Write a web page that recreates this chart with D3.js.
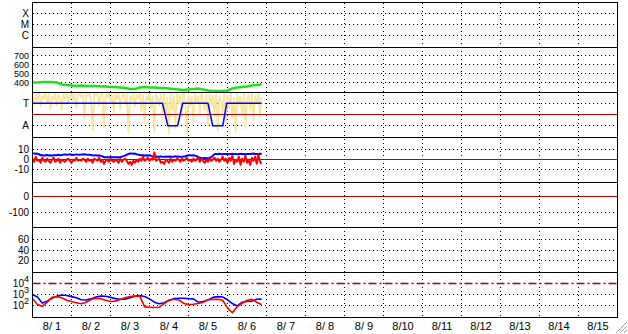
<!DOCTYPE html>
<html><head><meta charset="utf-8">
<script src="https://cdn.jsdelivr.net/npm/d3@7"></script>
<style>
html,body{margin:0;padding:0;background:#fff;}
svg{display:block;font-family:"Liberation Sans",Arial,sans-serif;font-size:11px;}
</style></head><body>
<svg id="chart" width="628" height="334"></svg>
<script>
// ---------------- DATA ----------------
const dayLabels = ["8/ 1","8/ 2","8/ 3","8/ 4","8/ 5","8/ 6","8/ 7","8/ 8","8/ 9","8/10","8/11","8/12","8/13","8/14","8/15"];
const stateCategories = ["X","M","C"];
const levelTicks = [400,500,600,700];
const modeLabels = ["T","A"];
const modeLevels = [75,25];
const modeThreshold = 50;
const diffTicks = [10,0,-10];
const offsetTicks = [0,-100];
const pctTicks = [60,40,20];
const logTicks = [1e4,1e3,1e2];
const logLimit = 1e4;

// green level, one value every 3 hours from 8/1 00:00
const levelSeries = [400,400,406,406,406,400,378,372,367,361,367,361,361,361,356,356,350,350,345,339,
  328,328,345,350,345,345,339,339,333,328,322,317,322,328,333,322,311,306,306,306,311,333,345,350,356,367,372,378];

// mode line (hours from 8/1 00:00, value)
const modeHours  = [0,80,83.3,89.3,92.4,108,110.9,117.1,119.5,141];
const modeValues = [75,75,25,25,75,75,25,25,75,75];

// yellow activity, hourly
const activitySeries = [
  90,72,95,80,97,68,92,85,98,75, 94,62,90,83,97,70,93,88,60,95,
  86,97,74,92,98,81,95,66,93,97, 88,96,40,97,91,98,85,15,96,92,
  98,70,94,97,20,95,88,97,78,93, 55,96,84,98,62,90,97,74,95,10,
  92,80,97,68,94,86,98,58,93,30, 95,82,97,64,91,12,96,85,70,94,
  55,97,40,88,8,95,60,92,20,97, 75,93,45,98,82,10,95,68,90,35,
  96,78,92,52,97,85,60,94,25,96, 70,93,48,98,15,90,80,55,95,30,
  92,65,97,42,88,12,95,72,90,50, 97,20,85,94,60,98,38,91,75,96,
  45,88];

// panel 4, hourly
const diffBlue = [
  6,6.2,5.8,6,5.5,
  4.3,4.5,4,4.3,4.6,4.2,4.3,4,4.5,4.3,4.4,4.8,4.3,4.6,
  5,5.2,4.8,5,5.3,5,4.7,5,5.2,5,4.8,5,5.1,5.4,5,4.8,5,4.6,
  4.3,4.2,4.5,4,4.3,3.8,3.4,
  2.5,2.5,2.4,2.5,2.6,2.5,2.5,2.4,2.5,2.5,2.6,3,3.5,
  4,5,5.6,6,6.2,5.8,6,5.4,5,4.6,
  4.3,4.5,4,4.3,4.1,4.4,3.8,3.4,
  3,3.2,2.9,3,3.3,3,2.8,3.1,3,3.2,3,2.9,3,3.4,3,3.1,2.8,3,3.2,3.5,4,
  4.3,4.5,4.2,4.4,4,3.5,2.5,2,
  1.5,1.4,1.6,1.5,1.5,1.7,2.5,4,
  5.5,5.6,5.4,5.8,5.5,5.3,5.6,5.5,5.7,5.4,5.5,5.9,5.5,5.6,5.3,5.5,5.8,5.6,5.5,5.4,5.7,5.5,5.6,5.8,6,5.7,5.5,5.6,5.8,5.5];
const diffRed = [
  1,-2,3,-1,0,-3,2,-1,-2,1, -1,-3,0,2,-2,-1,1,-3,0,-1,
  -2,0,1,-1,-3,0,-1,2,-1,0, -1,1,0,-2,1,-1,0,-3,1,0,
  -1,2,-2,0,-4,-1,0,-2,1,-1, -2,0,-1,-3,1,-2,0,1,-1,-4,
  -2,-5,-1,-3,0,-2,1,-1,3,-1, 0,2,-1,1,0,7,-1,0,1,-3,
  -2,-4,0,-1,-3,1,-2,0,-1,1, 0,-2,1,-1,0,2,-1,0,-2,1,
  -1,0,2,-2,1,-1,-3,0,-2,1, -1,0,2,-1,1,-2,0,3,-1,1,
  -3,2,-1,4,-4,0,-2,3,-5,1, -2,4,-3,0,-5,2,-1,3,-4,5,
  -2,-4];

// panel 7 (log), one value every 3 hours
const countBlue = [1000,600,165,250,450,700,900,800,640,500, 330,320,400,600,740,700,550,420,375,380,
  500,700,790,650,400,200,143,180,300,420, 460,460,420,400,200,230,320,550,640,600,
  330,150,90,200,230,250,370,380];
const countRed = [460,120,85,200,550,640,500,300,230,180, 143,200,350,460,420,300,230,250,350,500,
  650,740,700,75,70,65,70,150,300,375, 320,160,120,130,150,200,330,360,375,300,
  60,22,80,160,300,360,200,117];

// ---------------- LAYOUT ----------------
const svg = d3.select("#chart");
const L = 32.5, R = 617.5, T0 = 2.5, PH = 45;
const pTop = i => T0 + i*PH, pBot = i => T0 + (i+1)*PH;
const start = new Date(2023,7,1);
const x = d3.scaleTime().domain([start, new Date(2023,7,16)]).range([L, R]);
const hourT = h => new Date(start.getTime() + h*3600e3);

const y1 = d3.scalePoint().domain(stateCategories).range([pTop(0)-0.5, pBot(0)-0.5]).padding(1.12);
const y2 = d3.scaleLinear().domain([289,789]).range([pBot(1), pTop(1)]);
const y3 = d3.scaleLinear().domain([0,100]).range([pBot(2)-0.5, pTop(2)-0.5]);
const y4 = d3.scaleLinear().domain([-22.2,21.7]).range([pBot(3), pTop(3)]);
const y5 = d3.scaleLinear().domain([-194,87.5]).range([pBot(4), pTop(4)]);
const y6 = d3.scaleLinear().domain([-2.9,82.9]).range([pBot(5), pTop(5)]);
const y7 = d3.scaleLog().domain([8.1,1e5]).range([pBot(6), pTop(6)]);

const crisp = v => Math.floor(v) + 0.5;
const DARKRED = "#b00000";

// clip paths
const defs = svg.append("defs");
for (let i = 0; i < 7; i++) {
  defs.append("clipPath").attr("id","clip"+i).append("rect")
    .attr("x", L).attr("y", pTop(i)).attr("width", R-L).attr("height", PH);
}

// ---------------- GRID ----------------
const grid = svg.append("g").attr("stroke","#000").attr("stroke-width",1)
  .attr("stroke-dasharray","1,3").attr("shape-rendering","crispEdges");
const days = d3.timeDay.range(d3.timeDay.offset(start,1), new Date(2023,7,16));
grid.selectAll("line.v").data(days).join("line")
  .attr("x1", d => crisp(x(d))).attr("x2", d => crisp(x(d)))
  .attr("y1", pTop(0)).attr("y2", pBot(6));

function hGrid(vals, scale) {
  grid.append("g").selectAll("line").data(vals).join("line")
    .attr("x1", L).attr("x2", R)
    .attr("y1", d => crisp(scale(d))).attr("y2", d => crisp(scale(d)));
}
hGrid(stateCategories, y1);
hGrid(levelTicks, y2);
hGrid(modeLevels, y3);
hGrid(diffTicks.filter(d => d !== 0), y4);
hGrid(offsetTicks.filter(d => d !== 0), y5);
hGrid(pctTicks, y6);
hGrid(logTicks.filter(d => d !== logLimit), y7);

// ---------------- DATA MARKS ----------------
function line(panel, hours, vals, yScale, color, width) {
  const g = svg.append("g").attr("clip-path", `url(#clip${panel})`);
  return g.append("path")
    .datum(vals.map((v,i) => [hours[i], v]))
    .attr("fill","none").attr("stroke", color).attr("stroke-width", width)
    .attr("stroke-linejoin","round")
    .attr("d", d3.line().x(d => x(hourT(d[0]))).y(d => yScale(d[1])));
}
const hourly = activitySeries.map((_, i) => i);
const every3 = levelSeries.map((_, i) => i*3);

// panel 2
line(1, every3, levelSeries, y2, "#20e020", 2.6);

// panel 3
line(2, hourly, activitySeries, y3, "#f8e6a0", 1.8);
svg.append("line").attr("x1",L).attr("x2",R)
  .attr("y1", crisp(y3(modeThreshold))).attr("y2", crisp(y3(modeThreshold)))
  .attr("stroke", DARKRED).attr("shape-rendering","crispEdges");
line(2, modeHours, modeValues, y3, "#0000ff", 1.5);

// panel 4
svg.append("line").attr("x1",L).attr("x2",R)
  .attr("y1", crisp(y4(0))).attr("y2", crisp(y4(0)))
  .attr("stroke", DARKRED).attr("shape-rendering","crispEdges");
line(3, hourly, diffBlue, y4, "#0000ff", 2);
line(3, hourly, diffRed, y4, "#ff0000", 2);

// panel 5
svg.append("line").attr("x1",L).attr("x2",R)
  .attr("y1", crisp(y5(0))).attr("y2", crisp(y5(0)))
  .attr("stroke", DARKRED).attr("shape-rendering","crispEdges");

// panel 7
svg.append("line").attr("x1",L).attr("x2",R)
  .attr("y1", crisp(y7(logLimit))).attr("y2", crisp(y7(logLimit)))
  .attr("stroke", DARKRED).attr("stroke-width",1.3).attr("stroke-dasharray","8,3,2,3");
line(6, every3, countBlue, y7, "#0000ff", 1.6);
line(6, every3, countRed, y7, "#ff0000", 1.6);

// ---------------- FRAME ----------------
const frame = svg.append("g").attr("stroke","#000").attr("fill","none").attr("shape-rendering","crispEdges");
frame.append("rect").attr("x", L).attr("y", T0).attr("width", R-L).attr("height", PH*7);
for (let i = 1; i < 7; i++) {
  frame.append("line").attr("x1",L).attr("x2",R).attr("y1",pTop(i)).attr("y2",pTop(i));
}

// ---------------- LABELS ----------------
const lab = svg.append("g").attr("fill","#000").attr("text-anchor","end").attr("font-size", 10);
const LX = 29;
function yLabels(vals, scale, fmt, size) {
  const t = lab.append("g").selectAll("text").data(vals).join("text")
    .attr("x", LX).attr("y", d => crisp(scale(d))).attr("dy","0.36em")
    .text(fmt);
  if (size) t.attr("font-size", size);
}
yLabels(stateCategories, y1, d => d);
yLabels(levelTicks, y2, d => d, 9);
yLabels(modeLevels, y3, (d,i) => modeLabels[i]);
yLabels(diffTicks, y4, d => d);
yLabels(offsetTicks, y5, d => d);
yLabels(pctTicks, y6, d => d);
const lt = lab.append("g").selectAll("text").data(logTicks).join("text")
  .attr("x", LX).attr("y", d => crisp(y7(d))).attr("dy","0.3em");
lt.append("tspan").text("10");
lt.append("tspan").attr("dy", -5).attr("font-size", 9).text(d => Math.round(Math.log10(d)));

svg.append("g").attr("text-anchor","middle").selectAll("text").data(dayLabels).join("text")
  .attr("x", (d,i) => x(d3.timeHour.offset(d3.timeDay.offset(start, i), 12)))
  .attr("y", 329.5).text(d => d);

// resize grip
const grip = svg.append("g").attr("stroke-width",1);
[11,7,3].forEach(s => {
  grip.append("line").attr("x1",627).attr("y1",333-s).attr("x2",627-s).attr("y2",333).attr("stroke","#a0a0a0");
  grip.append("line").attr("x1",627).attr("y1",334-s).attr("x2",628-s).attr("y2",334).attr("stroke","#fff");
});
</script>
</body></html>
